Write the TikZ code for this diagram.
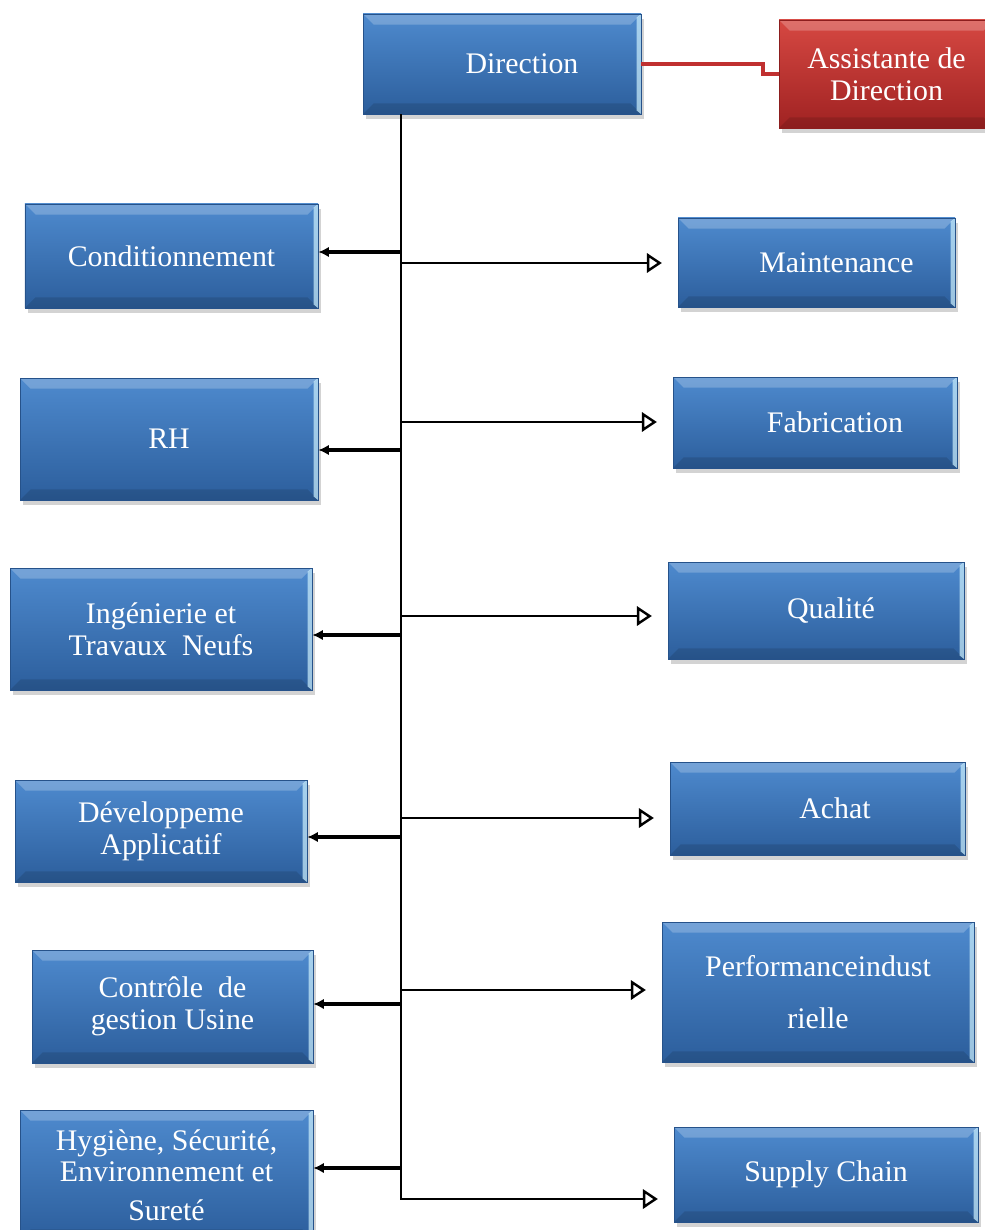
\documentclass[tikz,border=0pt]{standalone}
\usepackage{fontspec}
\setmainfont{Liberation Serif}
\usetikzlibrary{arrows.meta,shadows}

\definecolor{boxtop}{RGB}{78,138,206}
\definecolor{boxbot}{RGB}{44,94,156}
\definecolor{boxedge}{RGB}{38,82,138}
\definecolor{redtop}{RGB}{214,72,66}
\definecolor{redbot}{RGB}{160,34,34}
\definecolor{rededge}{RGB}{140,30,30}
\definecolor{redline}{RGB}{192,48,48}

\tikzset{
    bevel/.style={path picture={
        \fill[white,opacity=.22] (path picture bounding box.north west) -- (path picture bounding box.north east)
            -- ([shift={(-6pt,-6pt)}]path picture bounding box.north east) -- ([shift={(6pt,-6pt)}]path picture bounding box.north west) -- cycle;
        \fill[black,opacity=.12] (path picture bounding box.south west) -- (path picture bounding box.south east)
            -- ([shift={(-6pt,6pt)}]path picture bounding box.south east) -- ([shift={(6pt,6pt)}]path picture bounding box.south west) -- cycle;
        \fill[cyan!20,opacity=.7] (path picture bounding box.north east) -- (path picture bounding box.south east)
            -- ([shift={(-2.5pt,2pt)}]path picture bounding box.south east) -- ([shift={(-2.5pt,-2pt)}]path picture bounding box.north east) -- cycle;
    }},
    service/.style={rectangle, draw=boxedge, line width=.4pt, top color=boxtop, bottom color=boxbot,
        bevel, drop shadow={opacity=.35, shadow xshift=.05, shadow yshift=-.1},
        text=white, align=center, inner sep=2pt, font=\fontsize{17}{18}\selectfont},
    assist/.style={service, draw=rededge, top color=redtop, bottom color=redbot},
    trunk/.style={line width=1.2pt},
    toleft/.style={line width=1.8pt, -{Latex[length=6pt,width=6pt]}},
    toright/.style={line width=1.4pt, -{Triangle[open,length=8.5pt,width=11pt]}, shorten >=9pt},
}

\begin{document}
\begin{tikzpicture}
    \clip (0, 0) rectangle (19.7, -24.6);

    \node[service, minimum width=5.56cm, minimum height=2cm] (dir) at (10.04, -1.28){\hspace*{.8cm}Direction};
    \node[assist, minimum width=4.3cm, minimum height=2.16cm] (asst) at (17.73, -1.48){Assistante de\\Direction};
        \draw[redline, line width=2.2pt] (dir.east) -- ++(2.44, 0) |- (asst.west);

    \node[service, minimum width=5.86cm, minimum height=2.08cm] (cond) at (3.43, -5.12){Conditionnement};
    \node[service, minimum width=5.96cm, minimum height=2.44cm] (rh) at (3.38, -8.78){RH};
    \node[service, minimum width=6.04cm, minimum height=2.44cm] (ing) at (3.22, -12.58){Ingénierie et\\Travaux\ \ Neufs};
    \node[service, minimum width=5.84cm, minimum height=2.04cm] (dev) at (3.22, -16.62){Développeme\\Applicatif};
    \node[service, minimum width=5.62cm, minimum height=2.26cm] (ctrl) at (3.45, -20.13){Contrôle\ \ de\\gestion Usine};
    \node[service, minimum width=5.86cm, minimum height=2.6cm] (hse) at (3.33, -23.5){Hygiène, Sécurité,\\Environnement et\\[4pt]Sureté};

    \node[service, minimum width=5.54cm, minimum height=1.78cm] (maint) at (16.33, -5.25){\hspace*{.8cm}Maintenance};
    \node[service, minimum width=5.68cm, minimum height=1.82cm] (fab) at (16.3, -8.45){\hspace*{.8cm}Fabrication};
    \node[service, minimum width=5.92cm, minimum height=1.94cm] (qual) at (16.32, -12.21){\hspace*{.6cm}Qualité};
    \node[service, minimum width=5.9cm, minimum height=1.86cm] (achat) at (16.35, -16.17){\hspace*{.7cm}Achat};
    \node[service, minimum width=6.24cm, minimum height=2.8cm] (perf) at (16.36, -19.84){Performanceindust\\[12pt]rielle};
    \node[service, minimum width=6.08cm, minimum height=1.9cm] (supply) at (16.52, -23.49){Supply Chain};

    \coordinate (bot) at (8.02, -24);
    \draw[trunk] (dir.south -| bot) -- (bot);

    \coordinate (l1) at (8.02, -5.04);
    \coordinate (l2) at (8.02, -9);
    \coordinate (l3) at (8.02, -12.7);
    \coordinate (l4) at (8.02, -16.74);
    \coordinate (l5) at (8.02, -20.08);
    \coordinate (l6) at (8.02, -23.36);
        \draw[toleft] (l1) -- (l1 -| cond.east);
        \draw[toleft] (l2) -- (l2 -| rh.east);
        \draw[toleft] (l3) -- (l3 -| ing.east);
        \draw[toleft] (l4) -- (l4 -| dev.east);
        \draw[toleft] (l5) -- (l5 -| ctrl.east);
        \draw[toleft] (l6) -- (l6 -| hse.east);

    \coordinate (r1) at (8.02, -5.26);
    \coordinate (r2) at (8.02, -8.44);
    \coordinate (r3) at (8.02, -12.32);
    \coordinate (r4) at (8.02, -16.36);
    \coordinate (r5) at (8.02, -19.8);
    \coordinate (r6) at (8.02, -23.98);
        \draw[toright] (r1) -- (r1 -| maint.west);
        \draw[toright] (r2) -- (r2 -| fab.west);
        \draw[toright] (r3) -- (r3 -| qual.west);
        \draw[toright] (r4) -- (r4 -| achat.west);
        \draw[toright] (r5) -- (r5 -| perf.west);
        \draw[toright] (r6) -- (r6 -| supply.west);

\end{tikzpicture}
\end{document}
